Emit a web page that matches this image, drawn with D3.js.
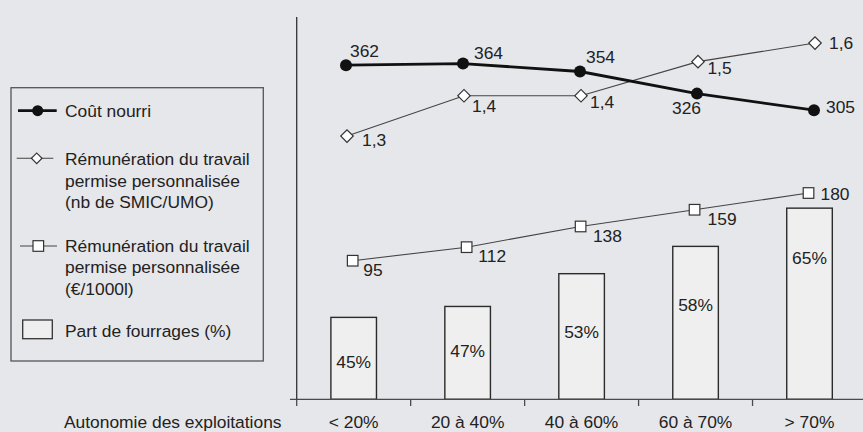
<!DOCTYPE html>
<html><head><meta charset="utf-8">
<script src="https://cdn.jsdelivr.net/npm/d3@7"></script>
<style>
html,body{margin:0;padding:0;background:#e6e7ea;}
svg{display:block;font-family:"Liberation Sans",Arial,Helvetica,sans-serif;}
</style></head>
<body>
<svg id="c" width="863" height="432"></svg>
<script>
// ---- data ----
const categories = ["< 20%", "20 à 40%", "40 à 60%", "60 à 70%", "> 70%"];
const coutNourri = [362, 364, 354, 326, 305];
const remunSmic = [1.27, 1.40, 1.40, 1.51, 1.57];
const remun1000l = [95, 112, 138, 159, 180];
const partFourrages = [45, 47, 53, 58, 65];
const xAxisTitle = "Autonomie des exploitations";

// label placement offsets (style only)
const coutDx = [4, 11, 6, -25, 12], coutDy = [-14.5, -11, -14.3, 14.3, -3.3];
const smicDx = [15, 8, 9, 9.4, 14], smicDy = [4, 10.3, 6, 6.3, 0];
const eurDx = [10.6, 11.7, 12.3, 13, 12], eurDy = [9.3, 9, 9.4, 9, 1];
const barLabelDy = [45, 44.4, 58, 59, 49.3];

const svg = d3.select("#c");
const baseY = 399.3, topY = 17;
const fs = 17.4;
const txt = "#222";

const x = d3.scaleBand().domain(categories).range([296.7, 866.5]).paddingInner(0.6).paddingOuter(0.3);
const xl = d3.scalePoint().domain(categories).range([346, 814]);
const yBar = d3.scaleLinear().domain([30, 100]).range([baseY, topY]);
const yC = d3.scaleLinear().domain([-61, 423]).range([baseY, topY]);
const yD = d3.scaleLinear().domain([0.421, 1.654]).range([baseY, topY]);
const yS = d3.scaleLinear().domain([-79, 401]).range([baseY, topY]);
const fmt1 = v => d3.format(".1f")(v).replace(".", ",");

// bars
const bars = svg.append("g");
bars.selectAll("rect").data(partFourrages).join("rect")
  .attr("x", (d, i) => x(categories[i]))
  .attr("width", x.bandwidth())
  .attr("y", d => yBar(d))
  .attr("height", d => baseY - yBar(d))
  .attr("fill", "#efefef").attr("stroke", "#2b2b2b").attr("stroke-width", 1.4);
bars.selectAll("text").data(partFourrages).join("text")
  .attr("x", (d, i) => x(categories[i]) + x.bandwidth() / 2)
  .attr("y", (d, i) => yBar(d) + barLabelDy[i])
  .attr("dy", "0.35em")
  .attr("text-anchor", "middle").attr("font-size", fs).attr("fill", txt)
  .text(d => d + "%");

// axes
const xAxis = d3.axisBottom(x).tickSize(0).tickFormat("");
const axG = svg.append("g").attr("transform", `translate(0,${baseY})`).call(xAxis);
axG.select(".domain").remove();
svg.append("line").attr("x1", 290).attr("x2", 863).attr("y1", baseY).attr("y2", baseY)
  .attr("stroke", "#4a4a4a").attr("stroke-width", 1.3);
const tickPos = categories.map(c => x(c) - x.step() * x.paddingInner() / 2);
svg.selectAll(".tk").data(tickPos).join("line").attr("class", "tk")
  .attr("x1", d => d).attr("x2", d => d).attr("y1", baseY).attr("y2", baseY + 6.7)
  .attr("stroke", "#4a4a4a").attr("stroke-width", 1.3);
svg.append("line").attr("x1", tickPos[0]).attr("x2", tickPos[0]).attr("y1", topY).attr("y2", baseY)
  .attr("stroke", "#333").attr("stroke-width", 1.3);
svg.selectAll(".cat").data(categories).join("text").attr("class", "cat")
  .attr("x", d => x(d) + x.bandwidth() / 2).attr("y", 427.5)
  .attr("text-anchor", "middle").attr("font-size", fs).attr("fill", txt).text(d => d);
svg.append("text").attr("x", 64).attr("y", 427.5).attr("font-size", fs).attr("fill", txt).text(xAxisTitle);

// square series
const lineS = d3.line().x((d, i) => x(categories[i]) + x.bandwidth() / 2 - 1).y(d => yS(d));
svg.append("path").datum(remun1000l).attr("d", lineS).attr("fill", "none").attr("stroke", "#444").attr("stroke-width", 1.1);
svg.selectAll(".sq").data(remun1000l).join("rect").attr("class", "sq")
  .attr("x", (d, i) => x(categories[i]) + x.bandwidth() / 2 - 1 - 5.3).attr("y", d => yS(d) - 5.3)
  .attr("width", 10.6).attr("height", 10.6).attr("fill", "#fff").attr("stroke", "#333").attr("stroke-width", 1.2);
svg.selectAll(".sql").data(remun1000l).join("text").attr("class", "sql")
  .attr("x", (d, i) => x(categories[i]) + x.bandwidth() / 2 - 1 + eurDx[i]).attr("y", (d, i) => yS(d) + eurDy[i])
  .attr("dy", "0.35em").attr("font-size", fs).attr("fill", txt).text(d => d);

// diamond series
const lineD = d3.line().x((d, i) => xl(categories[i]) + 1).y(d => yD(d));
svg.append("path").datum(remunSmic).attr("d", lineD).attr("fill", "none").attr("stroke", "#444").attr("stroke-width", 1.1);
const dia = d3.symbol().type(d3.symbolSquare).size(78);
svg.selectAll(".dm").data(remunSmic).join("path").attr("class", "dm")
  .attr("d", dia)
  .attr("transform", (d, i) => `translate(${xl(categories[i]) + 1},${yD(d)}) rotate(45)`)
  .attr("fill", "#fff").attr("stroke", "#333").attr("stroke-width", 1.2);
svg.selectAll(".dml").data(remunSmic).join("text").attr("class", "dml")
  .attr("x", (d, i) => xl(categories[i]) + 1 + smicDx[i]).attr("y", (d, i) => yD(d) + smicDy[i])
  .attr("dy", "0.35em").attr("font-size", fs).attr("fill", txt).text(d => fmt1(d));

// circle series
const lineC = d3.line().x((d, i) => xl(categories[i])).y(d => yC(d));
svg.append("path").datum(coutNourri).attr("d", lineC).attr("fill", "none").attr("stroke", "#111").attr("stroke-width", 2.8);
svg.selectAll(".ci").data(coutNourri).join("circle").attr("class", "ci")
  .attr("cx", (d, i) => xl(categories[i])).attr("cy", d => yC(d)).attr("r", 6).attr("fill", "#111");
svg.selectAll(".cil").data(coutNourri).join("text").attr("class", "cil")
  .attr("x", (d, i) => xl(categories[i]) + coutDx[i]).attr("y", (d, i) => yC(d) + coutDy[i])
  .attr("dy", "0.35em").attr("font-size", fs).attr("fill", txt).text(d => d);

// legend
const lg = svg.append("g");
lg.append("rect").attr("x", 11).attr("y", 87.7).attr("width", 252.3).attr("height", 273.3)
  .attr("fill", "none").attr("stroke", "#555").attr("stroke-width", 1.3);
// item 1
lg.append("line").attr("x1", 18).attr("x2", 56.7).attr("y1", 110.7).attr("y2", 110.7).attr("stroke", "#111").attr("stroke-width", 2.8);
lg.append("circle").attr("cx", 37.7).attr("cy", 110.7).attr("r", 5.5).attr("fill", "#111");
lg.append("text").attr("x", 65).attr("y", 117.3).attr("font-size", fs).attr("fill", txt).text("Coût nourri");
// item 2
lg.append("line").attr("x1", 16.7).attr("x2", 53.3).attr("y1", 158.3).attr("y2", 158.3).attr("stroke", "#444").attr("stroke-width", 1.1);
lg.append("path").attr("d", d3.symbol().type(d3.symbolSquare).size(56)).attr("transform", "translate(36.7,158.3) rotate(45)")
  .attr("fill", "#fff").attr("stroke", "#333").attr("stroke-width", 1.2);
["Rémunération du travail", "permise personnalisée", "(nb de SMIC/UMO)"].forEach((t, i) =>
  lg.append("text").attr("x", 65).attr("y", 165 + i * 21.7).attr("font-size", fs).attr("fill", txt).text(t));
// item 3
lg.append("line").attr("x1", 20).attr("x2", 57).attr("y1", 246).attr("y2", 246).attr("stroke", "#444").attr("stroke-width", 1.1);
lg.append("rect").attr("x", 33).attr("y", 240.7).attr("width", 10.6).attr("height", 10.6)
  .attr("fill", "#fff").attr("stroke", "#333").attr("stroke-width", 1.2);
["Rémunération du travail", "permise personnalisée", "(€/1000l)"].forEach((t, i) =>
  lg.append("text").attr("x", 65).attr("y", 251.7 + i * 21.7).attr("font-size", fs).attr("fill", txt).text(t));
// item 4
lg.append("rect").attr("x", 22.7).attr("y", 320).attr("width", 29.6).attr("height", 18.7)
  .attr("fill", "#efefef").attr("stroke", "#333").attr("stroke-width", 1.3);
lg.append("text").attr("x", 65).attr("y", 336.7).attr("font-size", fs).attr("fill", txt).text("Part de fourrages (%)");
</script>
</body></html>
